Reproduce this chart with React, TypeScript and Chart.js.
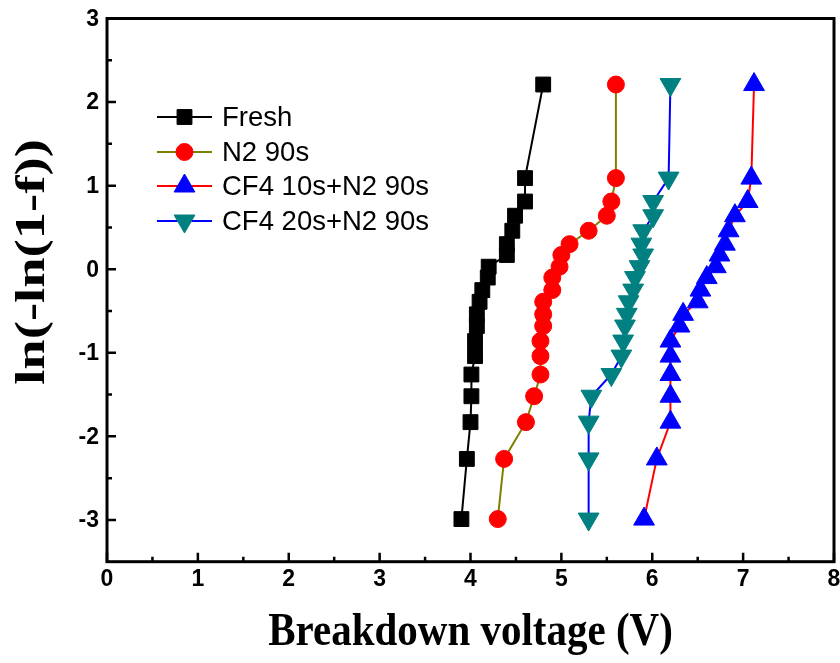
import React, { useEffect, useRef } from 'react';
import { Chart, registerables } from 'chart.js';

Chart.register(...registerables);

// ln(-ln(1-f)) levels (shared by all series), top to bottom
const probability = [2.21, 1.09, 0.81, 0.64, 0.46, 0.30, 0.17, 0.03, -0.10, -0.25, -0.39, -0.54, -0.68, -0.86, -1.04, -1.26, -1.52, -1.83, -2.27, -2.99];

// Breakdown voltages (V) for each series
const freshV = [4.80, 4.60, 4.60, 4.49, 4.46, 4.40, 4.40, 4.20, 4.19, 4.13, 4.10, 4.07, 4.07, 4.05, 4.05, 4.01, 4.01, 4.00, 3.96, 3.90];
const n2V = [5.60, 5.60, 5.55, 5.50, 5.30, 5.09, 5.00, 4.98, 4.90, 4.90, 4.80, 4.80, 4.80, 4.77, 4.77, 4.77, 4.70, 4.61, 4.37, 4.30];
const cf4s10V = [7.12, 7.09, 7.05, 6.91, 6.84, 6.80, 6.74, 6.70, 6.60, 6.53, 6.50, 6.34, 6.30, 6.20, 6.20, 6.20, 6.20, 6.20, 6.05, 5.91];
const cf4s20V = [6.20, 6.18, 6.01, 6.01, 5.90, 5.88, 5.90, 5.86, 5.81, 5.79, 5.74, 5.72, 5.70, 5.68, 5.66, 5.55, 5.33, 5.30, 5.30, 5.30];

const seriesLabels = ['Fresh', 'N2 90s', 'CF4 10s+N2 90s', 'CF4 20s+N2 90s'];

// Axis ticks
const xTicks = [0, 1, 2, 3, 4, 5, 6, 7, 8];
const xMinorTicks = [0.5, 1.5, 2.5, 3.5, 4.5, 5.5, 6.5, 7.5];
const yTicks = [-3, -2, -1, 0, 1, 2, 3];
const yMinorTicks = [-2.5, -1.5, -0.5, 0.5, 1.5, 2.5];

const xTitle = 'Breakdown voltage (V)';
const yTitle = 'ln(-ln(1-f))';

type Style = { line: string; fill: string; shape: string; radius: number; rotation: number };
const styles: Style[] = [
  { line: '#000000', fill: '#000000', shape: 'rect', radius: 10.5, rotation: 0 },
  { line: '#808000', fill: '#FF0000', shape: 'circle', radius: 8.5, rotation: 0 },
  { line: '#FF0000', fill: '#0000FF', shape: 'triangle', radius: 12, rotation: 0 },
  { line: '#0000FF', fill: '#008080', shape: 'triangle', radius: 12, rotation: 180 },
];

function drawMarker(ctx: CanvasRenderingContext2D, st: Style, x: number, y: number) {
  ctx.save();
  ctx.fillStyle = st.fill;
  ctx.strokeStyle = st.fill;
  ctx.lineWidth = 1;
  ctx.beginPath();
  const r = st.radius;
  if (st.shape === 'rect') {
    const s = Math.SQRT1_2 * r;
    ctx.rect(x - s, y - s, 2 * s, 2 * s);
  } else if (st.shape === 'circle') {
    ctx.arc(x, y, r, 0, Math.PI * 2);
  } else {
    let rad = (st.rotation * Math.PI) / 180;
    ctx.moveTo(x + Math.sin(rad) * r, y - Math.cos(rad) * r);
    rad += (2 * Math.PI) / 3;
    ctx.lineTo(x + Math.sin(rad) * r, y - Math.cos(rad) * r);
    rad += (2 * Math.PI) / 3;
    ctx.lineTo(x + Math.sin(rad) * r, y - Math.cos(rad) * r);
    ctx.closePath();
  }
  ctx.fill();
  ctx.stroke();
  ctx.restore();
}

const TICK_FONT = 'bold 23px "Liberation Sans", Arial, sans-serif';

const framePlugin = {
  id: 'frameTicks',
  beforeDatasetsDraw(chart: any) {
    const { ctx, chartArea, scales } = chart;
    const { left, right, top, bottom } = chartArea;
    const xs = scales.x;
    const ys = scales.y;
    ctx.save();
    ctx.strokeStyle = '#000';
    ctx.lineWidth = 3;
    ctx.lineCap = 'square';
    ctx.strokeRect(left, top, right - left, bottom - top);
    ctx.lineCap = 'butt';
    ctx.lineWidth = 2.5;
    ctx.beginPath();
    xTicks.forEach((v) => {
      const px = xs.getPixelForValue(v);
      ctx.moveTo(px, bottom);
      ctx.lineTo(px, bottom - 9);
    });
    xMinorTicks.forEach((v) => {
      const px = xs.getPixelForValue(v);
      ctx.moveTo(px, bottom);
      ctx.lineTo(px, bottom - 5);
    });
    yTicks.forEach((v) => {
      const py = ys.getPixelForValue(v);
      ctx.moveTo(left, py);
      ctx.lineTo(left + 9, py);
    });
    yMinorTicks.forEach((v) => {
      const py = ys.getPixelForValue(v);
      ctx.moveTo(left, py);
      ctx.lineTo(left + 5, py);
    });
    ctx.stroke();

    // tick labels
    ctx.fillStyle = '#000';
    ctx.font = TICK_FONT;
    ctx.textBaseline = 'middle';
    ctx.textAlign = 'center';
    xTicks.forEach((v) => {
      ctx.fillText(String(v), xs.getPixelForValue(v), bottom + 18);
    });
    ctx.textAlign = 'right';
    yTicks.forEach((v) => {
      ctx.fillText(String(v), left - 8, ys.getPixelForValue(v) + 1);
    });
    ctx.restore();
  },
  afterDraw(chart: any) {
    const { ctx, chartArea } = chart;
    ctx.save();
    ctx.fillStyle = '#000';
    ctx.textAlign = 'center';
    ctx.textBaseline = 'alphabetic';
    // x-axis title
    ctx.font = 'bold 41px "Liberation Serif", "Times New Roman", serif';
    ctx.save();
    ctx.translate((chartArea.left + chartArea.right) / 2, 645);
    ctx.scale(1, 1.15);
    ctx.fillText(xTitle, 0, 0);
    ctx.restore();
    // y-axis title
    ctx.font = 'bold 42px "Liberation Serif", "Times New Roman", serif';
    ctx.save();
    ctx.translate(44, 262);
    ctx.rotate(-Math.PI / 2);
    ctx.scale(1.3, 1);
    ctx.fillText(yTitle, 0, 0);
    ctx.restore();
    ctx.restore();
  },
};

const legendPlugin = {
  id: 'insideLegend',
  afterDatasetsDraw(chart: any) {
    const { ctx } = chart;
    const rowY = [117, 152, 186, 221];
    const x0 = 157;
    const x1 = 212;
    const xm = 184.5;
    const tx = 222;
    ctx.save();
    seriesLabels.forEach((label, i) => {
      const st = styles[i];
      const y = rowY[i];
      ctx.strokeStyle = st.line;
      ctx.lineWidth = 2;
      ctx.beginPath();
      ctx.moveTo(x0, y);
      ctx.lineTo(x1, y);
      ctx.stroke();
      drawMarker(ctx, st, xm, y);
      ctx.fillStyle = '#000';
      ctx.font = '27.5px "Liberation Sans", Arial, sans-serif';
      ctx.textBaseline = 'middle';
      ctx.textAlign = 'left';
      ctx.fillText(label, tx, y + 1);
    });
    ctx.restore();
  },
};

function toPoints(xsArr: number[]) {
  return xsArr.map((x, i) => ({ x, y: probability[i] }));
}

export default function App() {
  const canvasRef = useRef<HTMLCanvasElement | null>(null);

  useEffect(() => {
    const canvas = canvasRef.current;
    if (!canvas) return;
    const seriesValues = [freshV, n2V, cf4s10V, cf4s20V];
    const datasets = seriesValues.map((vals, i) => {
      const st = styles[i];
      return {
        label: seriesLabels[i],
        data: toPoints(vals),
        showLine: true,
        borderColor: st.line,
        backgroundColor: st.fill,
        borderWidth: 2,
        pointStyle: st.shape,
        pointRotation: st.rotation,
        pointRadius: st.radius,
        pointHoverRadius: st.radius,
        pointBackgroundColor: st.fill,
        pointBorderColor: st.fill,
        pointBorderWidth: 1,
        clip: false,
      };
    });

    const chart = new Chart(canvas, {
      type: 'scatter',
      data: { datasets: datasets as any },
      plugins: [framePlugin, legendPlugin],
      options: {
        animation: false,
        responsive: false,
        devicePixelRatio: 1,
        layout: { autoPadding: false, padding: { left: 107, right: 6, top: 18.5, bottom: 101.3 } },
        plugins: {
          legend: { display: false },
          tooltip: { enabled: false },
        },
        scales: {
          x: { type: 'linear', min: 0, max: 8, display: false },
          y: { type: 'linear', min: -3.5, max: 3, display: false },
        },
      } as any,
    });
    return () => chart.destroy();
  }, []);

  return (
    <div style={{ position: 'fixed', left: 0, top: 0, width: 840, height: 663, background: '#fff' }}>
      <canvas ref={canvasRef} width={840} height={663} style={{ display: 'block' }} />
    </div>
  );
}
